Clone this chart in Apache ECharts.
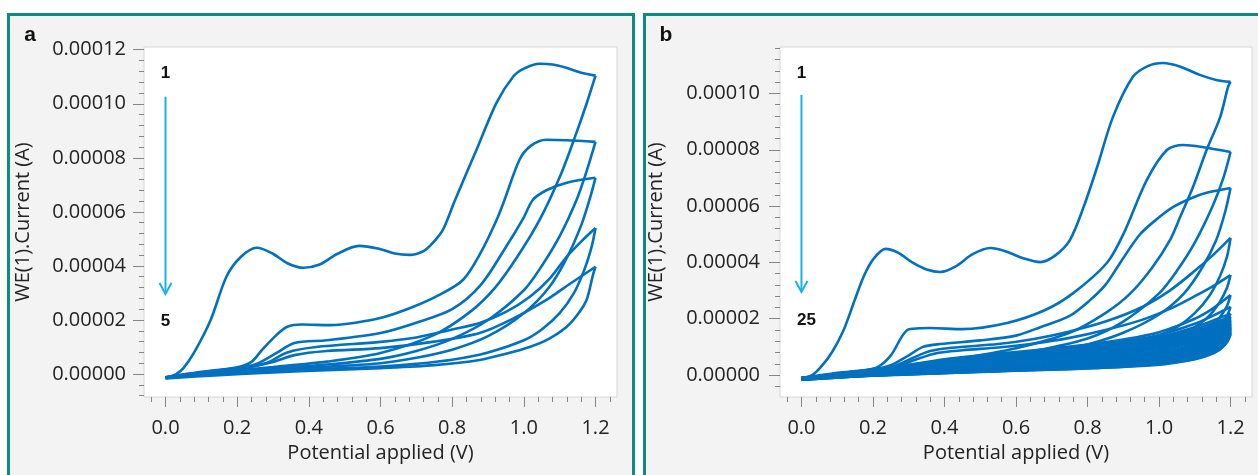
<!DOCTYPE html>
<html>
<head>
<meta charset="utf-8">
<script src="https://cdn.jsdelivr.net/npm/echarts@6/dist/echarts.min.js"></script>
<style>
  html, body { margin: 0; padding: 0; background: #ffffff; }
  #wrap { position: relative; width: 1258px; height: 475px; overflow: hidden; }
  .panel { position: absolute; top: 13px; height: 490px; background: #f3f3f3;
           border: 3px solid #0f8b7f; box-sizing: border-box; }
  #pa { left: 7px; width: 628px; }
  #pb { left: 643px; width: 640px; }
  #chart { position: absolute; left: 0; top: 0; width: 1258px; height: 475px; }
</style>
</head>
<body>
<div id="wrap">
  <div class="panel" id="pa"></div>
  <div class="panel" id="pb"></div>
  <div id="chart"></div>
</div>
<script>
// Cyclic voltammograms: potential (V) vs current (µA, labelled in A).

// ---- axis ticks ----
const POTENTIAL_TICKS = [0, 0.2, 0.4, 0.6, 0.8, 1.0, 1.2];
const CURRENT_TICKS_A = [0, 20, 40, 60, 80, 100, 120];   // µA
const CURRENT_TICKS_B = [0, 20, 40, 60, 80, 100];        // µA

// ---- panel a: 5 cycles, [potential V, current µA] ----
const A_F1 = [[0,-1.5],[0.03,0],[0.05,2.2],[0.08,8],[0.126,20],[0.17,36],[0.21,43.3],[0.255,46.7],[0.3,44.5],[0.34,41],[0.385,39.3],[0.43,40.5],[0.48,44.5],[0.54,47.4],[0.6,46.2],[0.64,44.6],[0.681,44.1],[0.72,45.5],[0.746,48.5],[0.774,53.3],[0.807,64],[0.868,83],[0.924,100.4],[0.97,110],[1.0,113],[1.044,114.8],[1.08,114.5],[1.119,113.3],[1.16,111.5],[1.2,110.4]];
const A_R1 = [[1.2,110.4],[1.175,100],[1.147,89.3],[1.105,74.4],[1.044,57],[0.98,43],[0.92,32],[0.85,23],[0.75,14.5],[0.6,7.8],[0.45,4.6],[0.3,2.6],[0.15,0.8],[0,-1.2]];
const A_F2 = [[0,-1.2],[0.1,0.8],[0.2,2.5],[0.24,4.5],[0.27,9],[0.31,14.5],[0.34,17.5],[0.38,18.3],[0.46,18.1],[0.53,19],[0.61,21.1],[0.69,24.8],[0.76,29],[0.83,34.8],[0.88,45],[0.924,57],[0.946,64.4],[0.988,79.3],[1.02,84.5],[1.063,86.7],[1.12,86.5],[1.2,85.9]];
const A_R2 = [[1.2,85.9],[1.175,75],[1.147,64.4],[1.1,51],[1.05,40],[1.0,31],[0.9,20],[0.8,13],[0.7,8.5],[0.6,5.6],[0.45,3.5],[0.3,2],[0.15,0.5],[0,-1.3]];
const A_F3 = [[0,-1.2],[0.1,0.6],[0.2,2.2],[0.25,3.5],[0.31,7.8],[0.36,11.5],[0.45,12.5],[0.6,15.2],[0.7,19],[0.8,24],[0.88,33],[0.95,47],[1.0,58],[1.025,64.4],[1.063,68],[1.12,70.8],[1.2,72.6]];
const A_R3 = [[1.2,72.6],[1.183,64.4],[1.16,55],[1.12,43],[1.07,32],[1.0,22.5],[0.9,14],[0.8,9],[0.7,6],[0.6,4.0],[0.45,2.7],[0.3,1.5],[0.15,0.2],[0,-1.4]];
const A_F4 = [[0,-1.3],[0.1,0.5],[0.2,2],[0.28,4],[0.34,8],[0.42,10],[0.6,11.9],[0.7,13.5],[0.8,16.5],[0.877,18.9],[0.95,23],[1.016,28.5],[1.07,35],[1.119,43.3],[1.16,49],[1.2,54]];
const A_R4 = [[1.2,54],[1.19,47.5],[1.17,39],[1.14,30],[1.1,22.5],[1.05,16.5],[1.0,12.5],[0.9,8],[0.8,5.3],[0.7,3.8],[0.6,2.8],[0.45,1.9],[0.3,1.0],[0.15,0],[0,-1.5]];
const A_F5 = [[0,-1.4],[0.1,0.4],[0.2,1.8],[0.3,4.5],[0.36,7],[0.45,8.5],[0.6,9.6],[0.75,12],[0.877,15.2],[0.97,20.5],[1.063,27.4],[1.13,33.5],[1.2,39.7]];
const A_R5 = [[1.2,39.7],[1.193,36.7],[1.175,27.4],[1.15,22],[1.119,17.4],[1.07,13],[1.016,10],[0.95,7.5],[0.877,5.2],[0.75,3.3],[0.6,2.2],[0.45,1.4],[0.3,0.6],[0.15,-0.4],[0,-1.6]];

// ---- panel b: cycles 1-5, [potential V, current µA] ----
const B_F1 = [[0,-1.1],[0.03,0],[0.054,2.8],[0.085,8],[0.118,16],[0.15,27],[0.174,35],[0.2,41],[0.235,44.8],[0.27,43.5],[0.31,40],[0.35,37.5],[0.388,36.6],[0.43,38.5],[0.48,43],[0.528,45.1],[0.57,44],[0.62,41.5],[0.668,40.1],[0.71,42.5],[0.751,48],[0.79,60],[0.827,73.9],[0.871,91.6],[0.927,105.9],[0.97,109.8],[1.011,110.8],[1.06,109.5],[1.114,106.6],[1.16,104.8],[1.2,104.1]];
const B_R1 = [[1.2,104.1],[1.193,102.3],[1.171,91.6],[1.133,79.9],[1.095,66.8],[1.059,56.1],[1.031,48],[0.98,38],[0.92,29],[0.85,22],[0.75,15],[0.6,9.5],[0.45,6],[0.3,3.5],[0.15,1.2],[0,-1]];
const B_F2 = [[0,-1.2],[0.1,0.8],[0.18,1.8],[0.213,2.8],[0.25,7],[0.296,16],[0.33,16.6],[0.36,16.7],[0.45,16.3],[0.575,18.5],[0.68,23],[0.76,29.1],[0.854,39.8],[0.9,50],[0.966,69.3],[1.022,79.9],[1.067,81.7],[1.12,81],[1.2,79.2]];
const B_R2 = [[1.2,79.2],[1.18,70],[1.15,60],[1.1,47],[1.05,37],[1.0,29],[0.9,19],[0.8,13],[0.65,8.5],[0.5,5.5],[0.3,2.8],[0.15,1],[0,-1.2]];
const B_F3 = [[0,-1.2],[0.1,0.5],[0.2,2],[0.25,3.5],[0.3,7],[0.34,10],[0.388,11],[0.5,12.3],[0.6,14],[0.668,17],[0.75,21],[0.807,26.6],[0.85,32],[0.891,39.8],[0.947,50],[1.0,56],[1.04,59.7],[1.09,62.8],[1.133,64.7],[1.2,66.4]];
const B_R3 = [[1.2,66.4],[1.185,58],[1.16,48],[1.12,38],[1.07,29],[1.0,21.5],[0.9,15],[0.8,10.8],[0.7,8],[0.6,6],[0.45,4],[0.3,2.2],[0.15,0.5],[0,-1.2]];
const B_F4 = [[0,-1.2],[0.1,0.4],[0.2,1.8],[0.26,3.2],[0.31,6],[0.36,8.5],[0.42,9.7],[0.55,11],[0.65,12.8],[0.75,15.5],[0.85,19],[0.95,24],[1.03,30],[1.1,37],[1.15,42.5],[1.2,48.7]];
const B_R4 = [[1.2,48.7],[1.19,42],[1.17,35],[1.14,28],[1.1,22],[1.05,17],[1.0,14],[0.9,10],[0.8,7.6],[0.7,6],[0.6,4.8],[0.45,3.3],[0.3,1.9],[0.15,0.4],[0,-1.2]];
const B_F5 = [[0,-1.2],[0.1,0.3],[0.2,1.7],[0.27,3.2],[0.32,5.5],[0.38,7.8],[0.45,8.8],[0.55,9.8],[0.65,11.2],[0.75,13.2],[0.85,16],[0.95,19.5],[1.03,23.5],[1.1,28],[1.15,31.5],[1.2,35.5]];
const B_R5 = [[1.2,35.5],[1.19,31],[1.17,26],[1.14,21],[1.1,17],[1.05,13.5],[1.0,11.3],[0.9,8.5],[0.8,6.6],[0.7,5.3],[0.6,4.2],[0.45,2.9],[0.3,1.6],[0.15,0.3],[0,-1.3]];

// ---- panel b: cycles 6-25, sampled on shared potential grids (µA) ----
const B_FWD_V = [0, 0.1, 0.2, 0.3, 0.4, 0.5, 0.6, 0.7, 0.8, 0.9, 1.0, 1.1, 1.15, 1.2];
const B_REV_V = [1.2, 1.19, 1.17, 1.14, 1.1, 1.05, 1.0, 0.9, 0.8, 0.7, 0.6, 0.45, 0.3, 0.15, 0];

const B_F06 = [-1.0, 0.2, 1.6, 3.6, 5.6, 7.0, 8.2, 9.4, 10.8, 12.6, 15.2, 20.0, 23.6, 28.4];
const B_F07 = [-1.0, 0.2, 1.5, 3.3, 5.2, 6.6, 7.8, 8.9, 10.2, 11.9, 14.2, 18.2, 21.0, 24.2];
const B_F08 = [-1.1, 0.1, 1.4, 3.1, 4.9, 6.3, 7.5, 8.6, 9.8, 11.4, 13.5, 17.0, 19.3, 21.8];
const B_F09 = [-1.1, 0.1, 1.3, 2.9, 4.6, 6.0, 7.2, 8.3, 9.5, 11.0, 13.0, 16.2, 18.4, 20.6];
const B_F10 = [-1.1, 0.1, 1.2, 2.7, 4.4, 5.7, 6.9, 8.0, 9.2, 10.7, 12.6, 15.6, 17.6, 19.8];
const B_F11 = [-1.1, 0.0, 1.1, 2.6, 4.2, 5.5, 6.7, 7.8, 9.0, 10.4, 12.3, 15.1, 17.0, 19.2];
const B_F12 = [-1.2, 0.0, 1.0, 2.5, 4.0, 5.3, 6.5, 7.6, 8.8, 10.2, 12.0, 14.7, 16.5, 18.7];
const B_F13 = [-1.2, 0.0, 1.0, 2.4, 3.8, 5.1, 6.3, 7.4, 8.6, 10.0, 11.7, 14.3, 16.1, 18.2];
const B_F14 = [-1.2, -0.1, 0.9, 2.3, 3.7, 4.9, 6.1, 7.2, 8.4, 9.8, 11.5, 14.0, 15.7, 17.8];
const B_F15 = [-1.2, -0.1, 0.9, 2.2, 3.5, 4.7, 5.9, 7.0, 8.2, 9.6, 11.2, 13.7, 15.4, 17.4];
const B_F16 = [-1.2, -0.1, 0.8, 2.1, 3.4, 4.6, 5.7, 6.8, 8.0, 9.4, 11.0, 13.4, 15.1, 17.1];
const B_F17 = [-1.3, -0.2, 0.8, 2.0, 3.3, 4.4, 5.5, 6.6, 7.8, 9.2, 10.8, 13.1, 14.8, 16.8];
const B_F18 = [-1.3, -0.2, 0.7, 1.9, 3.2, 4.3, 5.4, 6.5, 7.6, 9.0, 10.6, 12.9, 14.5, 16.5];
const B_F19 = [-1.3, -0.2, 0.7, 1.8, 3.0, 4.1, 5.2, 6.3, 7.5, 8.8, 10.4, 12.6, 14.2, 16.2];
const B_F20 = [-1.3, -0.2, 0.6, 1.7, 2.9, 4.0, 5.1, 6.2, 7.3, 8.6, 10.2, 12.4, 14.0, 15.9];
const B_F21 = [-1.3, -0.3, 0.6, 1.6, 2.8, 3.9, 4.9, 6.0, 7.1, 8.4, 10.0, 12.2, 13.7, 15.6];
const B_F22 = [-1.4, -0.3, 0.5, 1.5, 2.7, 3.7, 4.8, 5.8, 7.0, 8.3, 9.8, 11.9, 13.4, 15.3];
const B_F23 = [-1.4, -0.3, 0.5, 1.5, 2.6, 3.6, 4.6, 5.7, 6.8, 8.1, 9.6, 11.7, 13.2, 15.0];
const B_F24 = [-1.4, -0.3, 0.4, 1.4, 2.5, 3.5, 4.5, 5.6, 6.7, 8.0, 9.4, 11.5, 12.9, 14.7];
const B_F25 = [-1.4, -0.4, 0.4, 1.3, 2.4, 3.4, 4.4, 5.4, 6.5, 7.8, 9.2, 11.3, 12.7, 14.4];

const B_R06 = [28.4, 24.5, 20.5, 16.8, 13.6, 11.0, 9.4, 7.3, 5.9, 4.8, 3.9, 2.7, 1.5, 0.3, -1.3];
const B_R07 = [24.2, 21.0, 17.6, 14.6, 12.0, 9.9, 8.5, 6.7, 5.4, 4.4, 3.6, 2.5, 1.4, 0.2, -1.3];
const B_R08 = [21.8, 19.0, 16.0, 13.3, 11.0, 9.1, 7.9, 6.2, 5.0, 4.1, 3.3, 2.3, 1.3, 0.1, -1.3];
const B_R09 = [20.6, 17.8, 15.0, 12.5, 10.3, 8.6, 7.4, 5.8, 4.7, 3.9, 3.1, 2.2, 1.2, 0.1, -1.4];
const B_R10 = [19.8, 17.0, 14.3, 11.9, 9.8, 8.2, 7.0, 5.5, 4.5, 3.7, 3.0, 2.1, 1.1, 0.0, -1.4];
const B_R11 = [19.2, 16.4, 13.7, 11.4, 9.4, 7.8, 6.7, 5.3, 4.3, 3.5, 2.8, 2.0, 1.0, 0.0, -1.4];
const B_R12 = [18.7, 15.9, 13.2, 11.0, 9.0, 7.5, 6.4, 5.1, 4.1, 3.4, 2.7, 1.9, 1.0, -0.1, -1.4];
const B_R13 = [18.2, 15.4, 12.8, 10.6, 8.7, 7.2, 6.2, 4.9, 4.0, 3.3, 2.6, 1.8, 0.9, -0.1, -1.4];
const B_R14 = [17.8, 15.0, 12.4, 10.2, 8.4, 6.9, 6.0, 4.7, 3.8, 3.1, 2.5, 1.7, 0.8, -0.2, -1.5];
const B_R15 = [17.4, 14.6, 12.0, 9.9, 8.1, 6.7, 5.7, 4.5, 3.7, 3.0, 2.4, 1.6, 0.8, -0.2, -1.5];
const B_R16 = [17.1, 14.3, 11.7, 9.6, 7.8, 6.4, 5.5, 4.3, 3.5, 2.9, 2.3, 1.5, 0.7, -0.2, -1.5];
const B_R17 = [16.8, 14.0, 11.4, 9.3, 7.6, 6.2, 5.3, 4.1, 3.4, 2.8, 2.2, 1.4, 0.6, -0.3, -1.5];
const B_R18 = [16.5, 13.7, 11.1, 9.0, 7.3, 6.0, 5.1, 4.0, 3.2, 2.6, 2.1, 1.3, 0.6, -0.3, -1.5];
const B_R19 = [16.2, 13.4, 10.8, 8.7, 7.1, 5.8, 4.9, 3.8, 3.1, 2.5, 2.0, 1.3, 0.5, -0.3, -1.6];
const B_R20 = [15.9, 13.1, 10.5, 8.4, 6.8, 5.6, 4.7, 3.6, 2.9, 2.4, 1.9, 1.2, 0.5, -0.4, -1.6];
const B_R21 = [15.6, 12.8, 10.2, 8.1, 6.6, 5.3, 4.5, 3.5, 2.8, 2.3, 1.8, 1.1, 0.4, -0.4, -1.6];
const B_R22 = [15.3, 12.5, 9.9, 7.9, 6.3, 5.1, 4.3, 3.3, 2.7, 2.2, 1.7, 1.1, 0.4, -0.4, -1.6];
const B_R23 = [15.0, 12.2, 9.6, 7.6, 6.1, 4.9, 4.1, 3.2, 2.6, 2.1, 1.7, 1.0, 0.3, -0.5, -1.7];
const B_R24 = [14.7, 11.9, 9.3, 7.3, 5.8, 4.7, 3.9, 3.0, 2.4, 2.0, 1.6, 0.9, 0.3, -0.5, -1.7];
const B_R25 = [14.4, 11.6, 9.0, 7.1, 5.6, 4.5, 3.7, 2.9, 2.3, 1.9, 1.5, 0.9, 0.2, -0.5, -1.7];

// ---- cycle-number annotations: [potential V, current µA] ----
const A_ARROW = [[0, 102.6], [0, 29.6]];
const A_CYCLE_LABELS = [['1', 0, 111.1], ['5', 0, 19.6]];
const B_ARROW = [[0, 99.5], [0, 29.5]];
const B_CYCLE_LABELS = [['1', 0, 107.3], ['25', 0.014, 19.5]];

// ---- styles ----
const LINE_COLOR = '#0070c0';
const ARROW_COLOR = '#17b2ea';
const TICK_COLOR = '#858585';
const TEXT_COLOR = '#232323';
const FONT = '"Open Sans", "Noto Sans", sans-serif';

function pairUp(xs, ys) { return xs.map((x, i) => [x, ys[i]]); }

function minorTicks(lo, hi, step, majors) {
  const out = [];
  const n0 = Math.ceil(lo / step - 1e-9), n1 = Math.floor(hi / step + 1e-9);
  for (let n = n0; n <= n1; n++) {
    const v = +(n * step).toFixed(6);
    if (!majors.some(m => Math.abs(m - v) < 1e-9)) out.push(v);
  }
  return out;
}

function curve(data, xi, yi) {
  return {
    type: 'line', data, xAxisIndex: xi, yAxisIndex: yi,
    symbol: 'none', showSymbol: false, smooth: 0.3,
    lineStyle: { color: LINE_COLOR, width: 2.6 }, silent: true, animation: false, z: 3
  };
}

const nameStyle = { fontSize: 20, fontFamily: FONT, color: TEXT_COLOR };
const tickLine = { color: TICK_COLOR, width: 1 };

function potentialAxes(gridIndex) {
  const lo = -0.06, hi = 1.26;
  return [{
    type: 'value', gridIndex, min: lo, max: hi, position: 'bottom',
    axisLine: { show: false, onZero: false }, splitLine: { show: false },
    axisTick: { show: true, length: 10, customValues: POTENTIAL_TICKS, lineStyle: tickLine },
    axisLabel: { customValues: POTENTIAL_TICKS, formatter: v => v.toFixed(1), margin: 21,
                 fontSize: 20, fontFamily: FONT, color: TEXT_COLOR },
    name: 'Potential applied (V)', nameLocation: 'middle', nameGap: 45, nameTextStyle: nameStyle
  }, {
    type: 'value', gridIndex, min: lo, max: hi, position: 'bottom',
    axisLine: { show: false, onZero: false }, splitLine: { show: false },
    axisLabel: { show: false },
    axisTick: { show: true, length: 5, customValues: minorTicks(-0.04, 1.24, 0.04, POTENTIAL_TICKS), lineStyle: tickLine }
  }];
}

function currentAxes(gridIndex, lo, hi, majors, labelMargin, nameGap) {
  return [{
    type: 'value', gridIndex, min: lo, max: hi, position: 'left',
    axisLine: { show: false, onZero: false }, splitLine: { show: false },
    axisTick: { show: true, length: 11, customValues: majors, lineStyle: tickLine },
    axisLabel: { customValues: majors, formatter: v => (v * 1e-6).toFixed(5), margin: labelMargin,
                 fontSize: 20, fontFamily: FONT, color: TEXT_COLOR },
    name: 'WE(1).Current (A)', nameLocation: 'middle', nameGap, nameTextStyle: nameStyle
  }, {
    type: 'value', gridIndex, min: lo, max: hi, position: 'left',
    axisLine: { show: false, onZero: false }, splitLine: { show: false },
    axisLabel: { show: false },
    axisTick: { show: true, length: 5, customValues: minorTicks(lo, hi, 4, majors), lineStyle: tickLine }
  }];
}

const series = [];
[A_F1, A_R1, A_F2, A_R2, A_F3, A_R3, A_F4, A_R4, A_F5, A_R5].forEach(d => series.push(curve(d, 0, 0)));
const B_BAND_FWD = [B_F06, B_F07, B_F08, B_F09, B_F10, B_F11, B_F12, B_F13, B_F14, B_F15,
                    B_F16, B_F17, B_F18, B_F19, B_F20, B_F21, B_F22, B_F23, B_F24, B_F25];
const B_BAND_REV = [B_R06, B_R07, B_R08, B_R09, B_R10, B_R11, B_R12, B_R13, B_R14, B_R15,
                    B_R16, B_R17, B_R18, B_R19, B_R20, B_R21, B_R22, B_R23, B_R24, B_R25];
B_BAND_FWD.forEach((ys, i) => {
  series.push(curve(pairUp(B_FWD_V, ys), 2, 2));
  series.push(curve(pairUp(B_REV_V, B_BAND_REV[i]), 2, 2));
});
const B_FIRST_INDEX = series.length;
[B_F1, B_R1, B_F2, B_R2, B_F3, B_R3, B_F4, B_R4, B_F5, B_R5].forEach(d => series.push(curve(d, 2, 2)));

const gridStyle = { show: true, backgroundColor: '#ffffff', borderColor: '#d6d6d6', borderWidth: 1 };

const option = {
  animation: false,
  grid: [
    Object.assign({ left: 144, top: 47, width: 473, height: 350 }, gridStyle),
    Object.assign({ left: 780, top: 47, width: 472, height: 350 }, gridStyle)
  ],
  xAxis: [...potentialAxes(0), ...potentialAxes(1)],
  yAxis: [...currentAxes(0, -8.5, 121, CURRENT_TICKS_A, 18, 111),
          ...currentAxes(1, -7.8, 116.5, CURRENT_TICKS_B, 20, 114)],
  series
};

const chart = echarts.init(document.getElementById('chart'), null, { renderer: 'canvas' });
chart.setOption(option);

// Panel letters and cycle-direction arrows, placed through the series' coordinate systems.
function panelLetter(text, x, y) {
  return { type: 'text', x, y, z: 10, silent: true,
           style: { text, font: 'bold 21px "Liberation Sans", Arial, sans-serif', fill: '#111',
                    align: 'center', verticalAlign: 'middle', textAlign: 'center', textVerticalAlign: 'middle' } };
}
function arrowGroup(seriesIndex, arrow, labels) {
  const p0 = chart.convertToPixel({ seriesIndex }, arrow[0]);
  const p1 = chart.convertToPixel({ seriesIndex }, arrow[1]);
  const els = [
    { type: 'polyline', z: 10, silent: true, shape: { points: [p0, p1] },
      style: { stroke: ARROW_COLOR, lineWidth: 2, fill: null } },
    { type: 'polyline', z: 10, silent: true,
      shape: { points: [[p1[0] - 6, p1[1] - 11], [p1[0], p1[1]], [p1[0] + 6, p1[1] - 11]] },
      style: { stroke: ARROW_COLOR, lineWidth: 2, fill: null } }
  ];
  labels.forEach(([t, x, y]) => {
    const p = chart.convertToPixel({ seriesIndex }, [x, y]);
    els.push({ type: 'text', x: p[0], y: p[1], z: 10, silent: true,
               style: { text: t, font: 'bold 17px "Liberation Sans", Arial, sans-serif', fill: '#111',
                        align: 'center', verticalAlign: 'middle', textAlign: 'center', textVerticalAlign: 'middle' } });
  });
  return els;
}

chart.setOption({
  graphic: [
    panelLetter('a', 30, 35),
    panelLetter('b', 666, 35),
    ...arrowGroup(0, A_ARROW, A_CYCLE_LABELS),
    ...arrowGroup(B_FIRST_INDEX, B_ARROW, B_CYCLE_LABELS)
  ]
});
</script>
</body>
</html>
